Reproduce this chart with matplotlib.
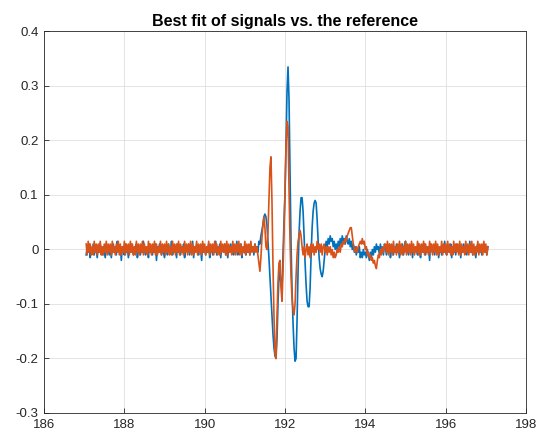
import numpy as np
import matplotlib
matplotlib.use("Agg")
import matplotlib.pyplot as plt

plt.rcParams['font.family'] = ['Liberation Sans', 'DejaVu Sans']
plt.rcParams['axes.unicode_minus'] = False

# sample spacing (s) and amplitude unit of the integer counts below
dt = 0.025
unit = 0.005

# segment start times
t_pre = 187.05
t_event = 191.2
t_post = 194.5

# orange (reference) signal, counts
orange_pre = [
    2, -2, 3, -1, 2, -2, 1, -2, 3, -1,
    2, -2, 2, -1, 3, -2, 1, -2, 2, -1,
    3, -2, 2, -1, 2, -2, 3, -1, 1, -2,
    2, -1, 3, -2, 2, -2, 1, -1, 3, -2,
    2, -1, 2, -2, 3, -1, 2, -2, 1, -2,
    3, -1, 2, -2, 2, -1, 3, -2, 2, -1,
    1, -2, 3, -1, 2, -2, 2, -1, 3, -2,
    2, -2, 1, -1, 3, -2, 2, -1, 2, -2,
    3, -1, 2, -2, 1, -2, 3, -1, 2, -2,
    2, -1, 3, -2, 2, -1, 1, -2, 3, -1,
    2, -2, 2, -1, 3, -2, 2, -2, 1, -1,
    3, -2, 2, -1, 2, -2, 3, -1, 2, -2,
    1, -1, 3, -2, 2, -1, 2, -2, 3, -1,
    2, -2, 1, -2, 3, -1, 2, -1, 2, -2,
    3, -2, 2, -1, 1, -2, 3, -1, 2, -2,
    2, -1, 3, -2, 2, -2, 1, -1, 3, -2,
    2, -1, 2, -2, 3, -1,
]
orange_event = [
    1, -1, 2, -1, 1, -2, -5, -8, -3, 4,
    9, 12, 8, 1, 0, 6, 18, 30, 34, 18,
    -5, -24, -38, -40, -25, -12, -5, -4, -14, -19,
    -8, 6, 22, 38, 47, 45, 22, 3, -10, -18,
    -22, -24, -20, -10, -2, 3, 5, 7, 5, 1,
    -2, 1, -3, 0, 2, -2, 1, -3, 2, -1,
    2, -2, 1, -1, 3, 0, 2, -1, 2, -2,
    1, 2, -1, 1, -2, 1, -1, 1, -2, 0,
    -3, -1, -3, -2, 0, -1, 1, -1, 2, 1,
    3, 2, 4, 3, 5, 6, 7, 8, 8, 5,
    2, 0, -1, 1, -1, 1, 2, 3, 2, 4,
    2, 3, 0, 1, -2, -1, -3, -2, -4, -3,
    -5, -4, -6, -7, -4, -2, -3, 0, -2, 1,
    -1, 1,
]
orange_post = [
    2, -1, 3, -2, 2, -1, 2, -2, 3, -1,
    1, -2, 2, -1, 3, -2, 2, -2, 1, -1,
    3, -2, 2, -1, 2, -2, 3, -1, 2, -2,
    1, -1, 3, -2, 2, -2, 2, -1, 3, -2,
    2, -1, 1, -2, 3, -1, 2, -2, 2, -1,
    3, -2, 2, -2, 1, -1, 3, -2, 2, -1,
    2, -2, 3, -1, 2, -2, 1, -2, 3, -1,
    2, -1, 2, -2, 3, -2, 2, -1, 1, -2,
    3, -1, 2, -2, 2, -1, 3, -2, 2, -2,
    1, -1, 3, -2, 2, -1, 2, -2, 3, -1,
    2, -2, 1,
]

# blue (fitted) signal, counts
blue_pre = [
    -2, 1, -1, 2, -3, 0, -1, 2, -2, 1,
    0, -3, 1, -1, 2, 0, -2, 1, -1, -3,
    2, -1, 0, -2, 1, -3, 0, 2, -1, 1,
    -2, 3, 0, -1, 1, -4, 1, 0, -2, 2,
    -1, 1, -3, 0, -1, 2, 0, -2, 1, -1,
    2, -3, 0, 1, -2, 1, -1, 3, 0, -2,
    1, 0, -3, 2, -1, 1, -2, 1, -1, 2,
    -4, 1, -1, 2, 0, -2, 1, -1, -3, 1,
    0, -2, 2, -1, 0, 3, -2, 1, -1, 1,
    -3, 2, -1, 0, -2, 1, -1, 2, -3, 0,
    0, -1, 2, -2, 1, -1, 3, -3, 1, -1,
    2, -1, -2, 1, 0, -4, 2, -1, 1, -2,
    1, -1, 2, -3, 0, 1, -2, 1, -1, 3,
    -2, 1, -1, 2, -3, 1, 0, -1, 2, -2,
    1, -3, 1, -1, 2, -1, 0, -2, 1, -1,
    3, -2, 1, -1, 2, -3, 0, 1, -1, -2,
    1, -1, 1, -2, 2, 0,
]
blue_event = [
    1, -2, 2, 0, 1, -1, 3, 2, 5, 7,
    9, 12, 13, 12, 9, 3, -3, -10, -17, -24,
    -31, -36, -39, -40, -33, -20, -10, -8, -13, -14,
    -2, 10, 20, 38, 58, 67, 55, 28, 2, -15,
    -27, -36, -41, -40, -26, -8, 6, 14, 19, 19,
    14, 5, -5, -13, -19, -21, -21, -14, -2, 8,
    14, 17, 18, 17, 11, 3, -3, -7, -9, -10,
    -8, -4, 0, 3, 1, 4, 2, 5, 3, 4,
    1, 3, 0, 2, 0, 3, 1, 4, 2, 5,
    3, 4, 2, 5, 3, 2, 4, 1, 3, 0,
    2, -1, 1, -2, 0, -1, 1, -3, -1, -3,
    0, -2, -1, -3, 0, -2, -4, -1, -3, 0,
    -2, 1, -1, 2, 0, 1, -2, 2, -1, 1,
    -2, 2,
]
blue_post = [
    1, -2, 1, -1, 2, -3, 0, 1, -2, 1,
    -1, 2, -1, 0, -3, 1, -1, 2, -2, 1,
    3, -1, 0, -2, 1, -1, 2, -3, 1, -1,
    1, 0, -2, 2, -1, -3, 1, 1, -1, 2,
    -2, 1, -1, 1, -4, 2, 0, -1, 1, -2,
    2, -1, 1, -3, 0, 1, -2, 1, -1, 3,
    -1, -2, 1, 0, -1, 2, -3, 1, -1, 1,
    -2, 2, 0, -1, 1, -3, 1, -1, 2, -1,
    0, -2, 1, -1, 3, -1, 1, -2, 1, 0,
    -3, 1, 2, -1, -1, 1, -2, 0, 2, -1,
    1, -2, 1,
]


def build(segments):
    ts, ys = [], []
    for start, counts in segments:
        ts.append(start + dt * np.arange(len(counts)))
        ys.append(np.array(counts) * unit)
    return np.concatenate(ts), np.concatenate(ys)


t_blue, y_blue = build([(t_pre, blue_pre), (t_event, blue_event), (t_post, blue_post)])
t_orange, y_orange = build([(t_pre, orange_pre), (t_event, orange_event), (t_post, orange_post)])

fig = plt.figure(figsize=(5.38, 4.36), dpi=100)
ax = fig.add_axes([0.0818, 0.0528, 0.8959, 0.875])

ax.plot(t_blue, y_blue, color='#0072BD', lw=1.2)
ax.plot(t_orange, y_orange, color='#D95319', lw=1.2)

ax.set_xlim(186, 198)
ax.set_ylim(-0.3, 0.4)
ax.set_xticks(np.arange(186, 199, 2))
ax.set_yticks(np.round(np.arange(-0.3, 0.41, 0.1), 1))
ax.set_yticklabels(['-0.3', '-0.2', '-0.1', '0', '0.1', '0.2', '0.3', '0.4'])

ax.grid(True, color='#dfdfdf', lw=0.6)
ax.set_axisbelow(True)
ax.tick_params(direction='in', length=3.5, width=0.6, colors='#262626',
               labelsize=9.5, pad=4, top=False, right=False)
for s in ax.spines.values():
    s.set_color('#262626')
    s.set_linewidth(0.6)

ax.set_title('Best fit of signals vs. the reference', fontsize=11.5, fontweight='bold', pad=4)

fig.savefig('out.png', dpi=100)
